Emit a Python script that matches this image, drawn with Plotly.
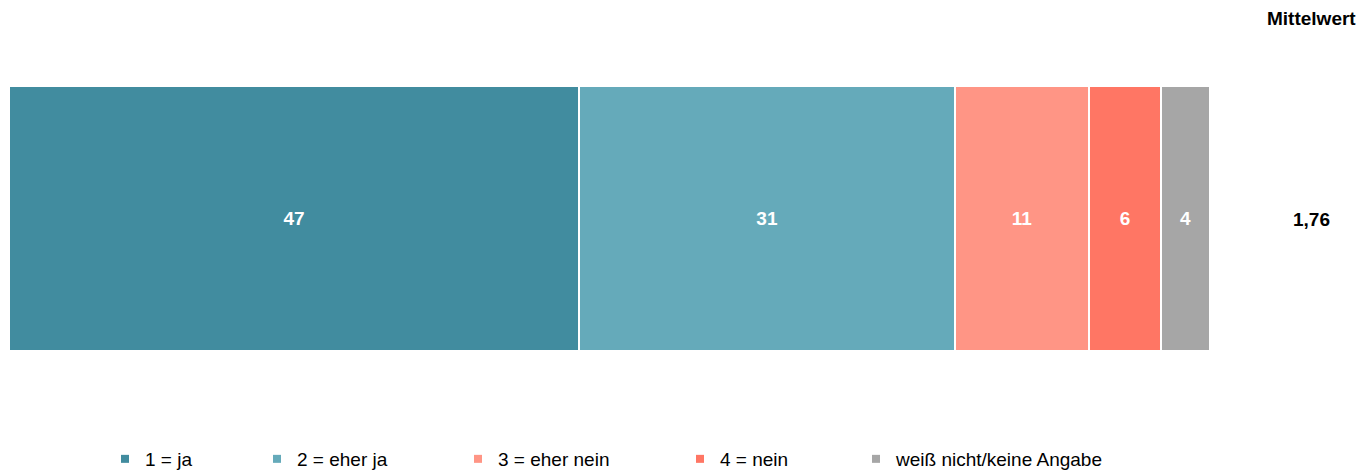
import plotly.graph_objects as go

# Antwortverteilung in Prozent
categories = ["1 = ja", "2 = eher ja", "3 = eher nein", "4 = nein", "weiß nicht/keine Angabe"]
values = [47, 31, 11, 6, 4]
colors = ["#418C9F", "#65AABA", "#FF9585", "#FF7664", "#A6A6A6"]
mean_value = 1.76
row = [""]

FONT = "Liberation Sans, Arial, sans-serif"
FONT_SIZE = 19

# left edge of each legend box in pixels
legend_left_px = [105, 257, 458, 680, 856]

W, H = 1366, 470
margin = dict(l=10, r=155, t=87, b=118)
plot_w = W - margin["l"] - margin["r"]
plot_h = H - margin["t"] - margin["b"]

fig = go.Figure()
legend_names = ["legend"] + [f"legend{i}" for i in range(2, len(categories) + 1)]

for cat, val, col, lg in zip(categories, values, colors, legend_names):
    fig.add_trace(go.Bar(
        x=[val], y=row, orientation="h", name=cat,
        marker=dict(color=col, line=dict(color="white", width=1.8)),
        text=[val], texttemplate="<b>%{text}</b>",
        textposition="inside", insidetextanchor="middle",
        textfont=dict(color="white", size=FONT_SIZE, family=FONT),
        showlegend=False, hoverinfo="skip",
    ))
    # legend entry with a small square marker
    fig.add_trace(go.Scatter(
        x=[None], y=[None], mode="markers", name=cat, legend=lg,
        marker=dict(symbol="square", size=8, color=col),
        showlegend=True,
    ))

layout_legends = {}
for lg, lx in zip(legend_names, legend_left_px):
    layout_legends[lg] = dict(
        xref="container", yref="container",
        x=lx / W, xanchor="left",
        y=1 - 459 / H, yanchor="middle",
        orientation="h", bgcolor="rgba(0,0,0,0)",
        font=dict(family=FONT, size=FONT_SIZE, color="#000000"),
        itemclick=False, itemdoubleclick=False,
    )

fig.update_layout(
    width=W, height=H,
    margin=margin,
    barmode="stack", bargap=0,
    paper_bgcolor="white", plot_bgcolor="white",
    font=dict(family=FONT, color="#000000"),
    xaxis=dict(range=[0, sum(values)], visible=False, fixedrange=True),
    yaxis=dict(visible=False, fixedrange=True),
    **layout_legends,
)

mean_x = (1311 - margin["l"]) / plot_w
fig.add_annotation(
    x=mean_x, y=1 + (margin["t"] - 18) / plot_h, xref="paper", yref="paper",
    text="<b>Mittelwert</b>", showarrow=False, xanchor="center", yanchor="middle",
    font=dict(family=FONT, size=FONT_SIZE, color="#000000"),
)
fig.add_annotation(
    x=mean_x, y=0.5, xref="paper", yref="paper",
    text="<b>" + f"{mean_value:.2f}".replace(".", ",") + "</b>",
    showarrow=False, xanchor="center", yanchor="middle",
    font=dict(family=FONT, size=FONT_SIZE, color="#000000"),
)

fig.write_html("out.html", config={"displayModeBar": False})
